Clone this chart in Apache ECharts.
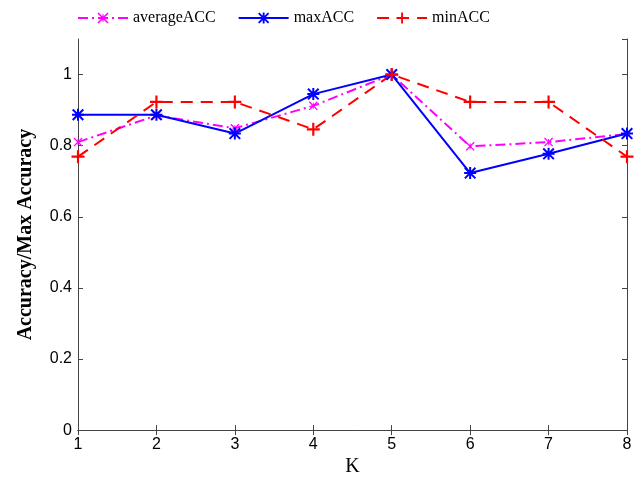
<!DOCTYPE html>
<html>
<head>
<meta charset="utf-8">
<script src="https://cdn.jsdelivr.net/npm/echarts@6/dist/echarts.min.js"></script>
<style>
html,body{margin:0;padding:0;background:#fff;}
#chartmain{width:642px;height:482px;}
</style>
</head>
<body>
<div id="chartmain"></div>
<script>
// data
var kValues = [1, 2, 3, 4, 5, 6, 7, 8];
var avgAcc = [0.810, 0.885, 0.849, 0.912, 1.0, 0.798, 0.810, 0.833];
var maxAcc = [0.887, 0.887, 0.834, 0.945, 1.0, 0.723, 0.777, 0.834];
var minAcc = [0.769, 0.923, 0.923, 0.846, 1.0, 0.923, 0.923, 0.769];

function pairs(vals){
    return kValues.map(function(k,i){ return [k, vals[i]]; });
}

// marker shapes
var plusPath = 'path://M5,0H7V5H12V7H7V12H5V7H0V5H5Z';
var starPath = 'path://M5,0H7V5H12V7H7V12H5V7H0V5H5Z' +
    'M0,1.4L1.4,0L12,10.6L10.6,12Z M10.6,0L12,1.4L1.4,12L0,10.6Z';
var xPath = 'path://M0,1.2L1.2,0L12,10.8L10.8,12Z M10.8,0L12,1.2L1.2,12L0,10.8Z' +
    'M5.4,2H6.6V10H5.4Z';

var axisColor = '#444';
var serif = 'Liberation Serif';
var sans = 'Liberation Sans';
var tick = {show:true, inside:true, length:5, lineStyle:{color:axisColor}};

var option = {
    animation:false,
    backgroundColor:'#fff',
    legend:{
        left:72, top:5,
        itemWidth:50, itemHeight:14, itemGap:22,
        textStyle:{fontFamily:serif, fontSize:16, color:'#000'},
        data:['averageACC','maxACC','minACC']
    },
    grid:{left:78, right:15, top:39, bottom:49},
    xAxis:[{
        type:'value', min:1, max:8, interval:1,
        name:'K', nameLocation:'middle', nameGap:26,
        nameTextStyle:{fontFamily:serif, fontSize:20, color:'#000'},
        axisLine:{show:true, lineStyle:{color:axisColor, width:1}},
        axisTick:tick,
        axisLabel:{fontFamily:sans, fontSize:16, color:'#000', margin:6},
        splitLine:{show:false}
    },{
        type:'value', min:1, max:8, interval:1, position:'top',
        axisLine:{show:true, lineStyle:{color:axisColor, width:1}},
        axisTick:tick,
        axisLabel:{show:false},
        splitLine:{show:false}
    }],
    yAxis:[{
        type:'value', min:0, max:1.1, interval:0.2,
        name:'Accuracy/Max Accuracy', nameLocation:'middle', nameGap:42,
        nameTextStyle:{fontFamily:serif, fontSize:20, fontWeight:'bold', color:'#000'},
        axisLine:{show:true, lineStyle:{color:axisColor, width:1}},
        axisTick:tick,
        axisLabel:{fontFamily:sans, fontSize:16, color:'#000', margin:6, showMaxLabel:false},
        splitLine:{show:false}
    },{
        type:'value', min:0, max:1.1, interval:0.2, position:'right',
        axisLine:{show:true, lineStyle:{color:axisColor, width:1}},
        axisTick:tick,
        axisLabel:{show:false},
        splitLine:{show:false}
    }],
    series:[{
        name:'averageACC', type:'line', data:pairs(avgAcc),
        symbol:xPath, symbolSize:9,
        itemStyle:{color:'#ff00ff'},
        lineStyle:{color:'#ff00ff', width:2, type:[10,4,2,4]}
    },{
        name:'maxACC', type:'line', data:pairs(maxAcc),
        symbol:starPath, symbolSize:12,
        itemStyle:{color:'#0000ff'},
        lineStyle:{color:'#0000ff', width:2, type:'solid'}
    },{
        name:'minACC', type:'line', data:pairs(minAcc),
        symbol:plusPath, symbolSize:13,
        itemStyle:{color:'#ff0000'},
        lineStyle:{color:'#ff0000', width:2, type:[12,8]}
    }]
};

var myChart = echarts.init(document.getElementById('chartmain'));
myChart.setOption(option);
</script>
</body>
</html>
